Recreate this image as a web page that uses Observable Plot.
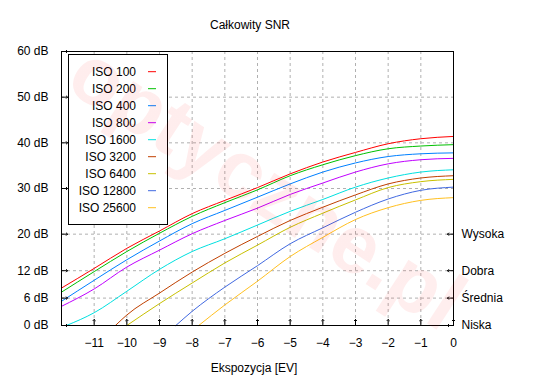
<!DOCTYPE html>
<html>
<head>
<meta charset="utf-8">
<script src="https://cdn.jsdelivr.net/npm/d3@7"></script>
<script src="https://cdn.jsdelivr.net/npm/@observablehq/plot@0.6"></script>
<style>
  html, body { margin: 0; padding: 0; background: #fff; }
  #chart svg { display: block; }
</style>
</head>
<body>
<div id="chart"></div>
<script>
// ---- Data ----
const ev = [-12, -11, -10, -9, -8, -7, -6, -5, -4, -3, -2, -1, 0];

const seriesNames = ["ISO 100", "ISO 200", "ISO 400", "ISO 800", "ISO 1600", "ISO 3200", "ISO 6400", "ISO 12800", "ISO 25600"];
const seriesColors = ["#ff0000", "#00c000", "#0080ff", "#c000ff", "#00e0e0", "#c04000", "#c8c000", "#4169e1", "#ffc020"];

const iso100   = [8.2, 12.5, 16.9, 20.7, 24.5, 27.4, 30.2, 33.2, 35.8, 37.9, 39.8, 40.9, 41.4];
const iso200   = [7.3, 11.8, 16.2, 20.2, 23.9, 26.9, 29.7, 32.8, 35.2, 37.2, 38.7, 39.3, 39.6];
const iso400   = [5.3,  9.9, 14.4, 18.5, 22.3, 25.2, 28.1, 31.0, 33.6, 35.6, 37.0, 37.6, 37.8];
const iso800   = [4.2,  8.0, 12.8, 16.5, 20.1, 23.0, 25.7, 28.7, 31.2, 33.6, 35.4, 36.3, 36.6];
const iso1600  = [null, 2.8,  7.5, 12.3, 16.2, 19.0, 22.0, 25.0, 27.6, 30.3, 32.3, 33.6, 34.1];
const iso3200  = [null, null, 2.3,  7.1, 11.7, 15.8, 19.5, 23.0, 25.9, 28.6, 31.0, 32.3, 32.8];
const iso6400  = [null, null, null, 4.8,  9.3, 13.7, 17.6, 21.5, 24.6, 27.5, 30.2, 31.5, 32.0];
const iso12800 = [null, null, null, null, 3.1,  8.4, 13.1, 17.9, 21.4, 24.8, 27.7, 29.6, 30.3];
const iso25600 = [null, null, null, null, null, 4.5,  9.7, 15.1, 19.3, 23.2, 25.8, 27.4, 28.0];
// exposure at which each curve leaves 0 dB (null = curve starts at the left edge)
const zeroCrossEV = [null, null, null, null, -11.85, -10.35, -10.0, -8.5, -7.8];

const yTicks = [0, 6, 12, 20, 30, 40, 50, 60];
const yGrid = [6, 12, 20, 30, 40, 50];
const xTicks = [-11, -10, -9, -8, -7, -6, -5, -4, -3, -2, -1, 0];
const qualityTicks = [0, 6, 12, 20];
const qualityLabels = ["Niska", "Średnia", "Dobra", "Wysoka"];

const titleText = "Całkowity SNR";
const xLabelText = "Ekspozycja [EV]";
const watermarkText = "optyczne.pl";

// ---- Build table ----
const allSeries = [iso100, iso200, iso400, iso800, iso1600, iso3200, iso6400, iso12800, iso25600];
const rows = [];
allSeries.forEach((vals, i) => {
  if (zeroCrossEV[i] != null) rows.push({series: seriesNames[i], ev: zeroCrossEV[i], snr: 0});
  vals.forEach((v, j) => { if (v != null) rows.push({series: seriesNames[i], ev: ev[j], snr: v}); });
});

const font = "'Liberation Sans', Arial, Helvetica, sans-serif";
const gridStyle = {stroke: "#b0b0b0", strokeOpacity: 1, strokeWidth: 1, strokeDasharray: "3,3"};

const plot = Plot.plot({
  width: 550,
  height: 380,
  marginLeft: 61,
  marginRight: 97,
  marginTop: 51,
  marginBottom: 55,
  style: {fontFamily: font, fontSize: "12px", color: "#000", background: "#fff", overflow: "visible"},
  x: {domain: [d3.min(ev), d3.max(ev)]},
  y: {domain: [d3.min(yTicks), d3.max(yTicks)]},
  color: {domain: seriesNames, range: seriesColors},
  marks: [
    Plot.gridX(xTicks.filter(d => d !== 0), gridStyle),
    Plot.gridY(yGrid, gridStyle),
    Plot.line(rows, {x: "ev", y: "snr", z: "series", stroke: "series", strokeWidth: 1, curve: "monotone-x"}),
    Plot.frame({stroke: "#000", strokeWidth: 1}),
    Plot.axisY(yTicks, {anchor: "left", tickSize: 0, tickPadding: 13, tickFormat: d => `${d} dB`, label: null, fill: "#000"}),
    Plot.axisY(qualityTicks, {anchor: "right", tickSize: 0, tickPadding: 8, tickFormat: d => qualityLabels[qualityTicks.indexOf(d)], label: null, fill: "#000"}),
    Plot.axisX(xTicks, {anchor: "bottom", tickSize: 0, tickPadding: 13, label: null, fill: "#000"}),
    // inward tick marks (gnuplot style)
    Plot.vector(yTicks, {x: d3.min(ev), y: d => d, length: 6, rotate: 90, anchor: "start", stroke: "#000", strokeWidth: 1}),
    Plot.vector(xTicks, {x: d => d, y: d3.min(yTicks), length: 6, rotate: 0, anchor: "start", stroke: "#000", strokeWidth: 1}),
    Plot.vector(qualityTicks, {x: d3.max(ev), y: d => d, length: 6, rotate: -90, anchor: "start", stroke: "#000", strokeWidth: 1})
  ]
});

document.getElementById("chart").appendChild(plot);

// ---- Decorations: title, axis label, legend, watermark ----
const svg = d3.select(plot);

svg.append("text")
  .attr("x", 250).attr("y", 29)
  .attr("text-anchor", "middle")
  .attr("font-family", font).attr("font-size", 12).attr("fill", "#000")
  .text(titleText);

svg.append("text")
  .attr("x", 254).attr("y", 372)
  .attr("text-anchor", "middle")
  .attr("font-family", font).attr("font-size", 12).attr("fill", "#000")
  .text(xLabelText);

const legend = svg.append("g");
legend.append("rect")
  .attr("x", 68.5).attr("y", 54.5).attr("width", 99).attr("height", 170)
  .attr("fill", "#fff").attr("stroke", "#000").attr("stroke-width", 1);
seriesNames.forEach((name, i) => {
  const cy = 71.7 + 17 * i;
  legend.append("text")
    .attr("x", 136).attr("y", cy + 4.3)
    .attr("text-anchor", "end")
    .attr("font-family", font).attr("font-size", 12).attr("fill", "#000")
    .text(name);
  legend.append("line")
    .attr("x1", 148).attr("x2", 156).attr("y1", cy).attr("y2", cy)
    .attr("stroke", seriesColors[i]).attr("stroke-width", 1);
});

// faint watermark composited over the whole picture
const defs = svg.append("defs");
const grad = defs.append("linearGradient").attr("id", "wmgrad")
  .attr("gradientUnits", "userSpaceOnUse").attr("x1", 80).attr("y1", 70).attr("x2", 450).attr("y2", 315);
grad.append("stop").attr("offset", "0").attr("stop-color", "#ff0000").attr("stop-opacity", 0.07);
grad.append("stop").attr("offset", "0.55").attr("stop-color", "#ff0000").attr("stop-opacity", 0.06);
grad.append("stop").attr("offset", "0.8").attr("stop-color", "#808080").attr("stop-opacity", 0.05);
grad.append("stop").attr("offset", "1").attr("stop-color", "#808080").attr("stop-opacity", 0.04);
svg.append("text")
  .attr("transform", "translate(264,192) rotate(33)")
  .attr("text-anchor", "middle")
  .attr("dominant-baseline", "middle")
  .attr("font-family", font)
  .attr("font-weight", "bold")
  .attr("font-size", 82)
  .attr("fill", "url(#wmgrad)")
  .attr("pointer-events", "none")
  .text(watermarkText);
</script>
</body>
</html>
